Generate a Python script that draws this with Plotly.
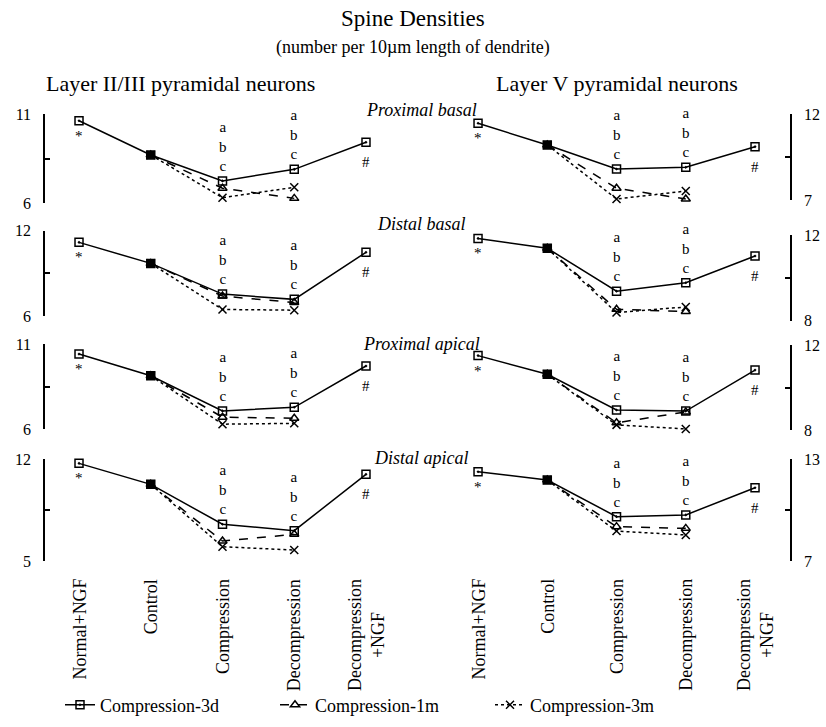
import plotly.graph_objects as go

# ---- data -------------------------------------------------------------
categories = ["Normal+NGF", "Control", "Compression", "Decompression", "Decompression<br>+NGF"]
series_names = ["Compression-3d", "Compression-1m", "Compression-3m"]
regions = ["Proximal basal", "Distal basal", "Proximal apical", "Distal apical"]
layers = ["Layer II/III pyramidal neurons", "Layer V pyramidal neurons"]

# Layer II/III
l23_3d = [
    [10.62, 8.70, 7.24, 7.89, 9.41],
    [11.18, 9.70, 7.54, 7.17, 10.48],
    [10.41, 9.14, 7.08, 7.29, 9.71],
    [11.70, 10.26, 7.52, 7.08, 10.95],
]
l23_1m = [
    [None, 8.70, 6.83, 6.26, None],
    [None, 9.70, 7.40, 6.95, None],
    [None, 9.14, 6.71, 6.65, None],
    [None, 10.26, 6.37, 6.83, None],
]
l23_3m = [
    [None, 8.70, 6.30, 6.88, None],
    [None, 9.70, 6.46, 6.41, None],
    [None, 9.14, 6.30, 6.35, None],
    [None, 10.26, 5.98, 5.75, None],
]

# Layer V
l5_3d = [
    [11.46, 10.20, 8.80, 8.90, 10.10],
    [11.84, 11.38, 9.38, 9.77, 11.02],
    [11.50, 10.62, 8.94, 8.89, 10.82],
    [12.25, 11.76, 9.61, 9.71, 11.31],
]
l5_1m = [
    [None, 10.20, 7.68, 7.06, None],
    [None, 11.38, 8.53, 8.43, None],
    [None, 10.62, 8.34, 8.85, None],
    [None, 11.76, 9.02, 8.92, None],
]
l5_3m = [
    [None, 10.20, 7.06, 7.52, None],
    [None, 11.38, 8.38, 8.64, None],
    [None, 10.62, 8.24, 8.05, None],
    [None, 11.76, 8.76, 8.53, None],
]

# y-axis ranges per panel (low, high)
l23_ranges = [(6, 11), (6, 12), (6, 11), (5, 12)]
l5_ranges = [(7, 12), (8, 12), (8, 12), (7, 13)]

sig_letters = "a<br>b<br>c"
sig_normal = "*"
sig_ngf = "#"

# ---- layout helpers ---------------------------------------------------
W, H = 826, 727
FONT = "Liberation Serif"
INK = "#000000"


def px_x(p):
    return p / W


def px_y(p):
    return 1 - p / H


# pixel extents (top, bottom) of each y axis
l23_extent = [(114, 203), (230.7, 316), (344, 429.3), (459, 561)]
l5_extent = [(114, 200), (235, 320.7), (345, 430), (459, 561)]
label_y = [110, 224, 344, 458]

fig = go.Figure()

styles = {
    "Compression-3d": dict(dash="solid", symbol="square-open-dot", size=8),
    "Compression-1m": dict(dash="dash", symbol="triangle-up-open", size=8),
    "Compression-3m": dict(dash="dot", symbol="x-thin-open", size=8),
}

xs = list(range(len(categories)))
annotations = []

columns = [
    ("x", (l23_3d, l23_1m, l23_3m), l23_ranges, l23_extent, "left"),
    ("x2", (l5_3d, l5_1m, l5_3m), l5_ranges, l5_extent, "right"),
]

layout_axes = {}
for c, (xname, sets, ranges, extents, side) in enumerate(columns):
    for i in range(4):
        k = 2 * i + c + 1
        yname = "y" if k == 1 else f"y{k}"
        lo, hi = ranges[i]
        top, bot = extents[i]
        layout_axes["yaxis" if k == 1 else f"yaxis{k}"] = dict(
            domain=[px_y(bot), px_y(top)],
            range=[lo, hi],
            anchor=xname,
            side=side,
            showline=True, linecolor=INK, linewidth=1.5,
            showgrid=False, zeroline=False,
            tickmode="array",
            tickvals=[lo, (lo + hi) / 2, hi],
            ticktext=[str(lo), "", str(hi)],
            ticks="inside", ticklen=5, tickwidth=1.5, tickcolor=INK,
            minor=dict(tickmode="array", tickvals=[lo, hi], ticks="outside",
                       ticklen=5, tickwidth=1.5, tickcolor=INK),
            ticklabelstandoff=9,
            tickfont=dict(family=FONT, size=16, color=INK),
        )
        for s, name in enumerate(series_names):
            vals = sets[s][i]
            st = styles[name]
            symbols = st["symbol"]
            if s == 0:
                symbols = [st["symbol"]] * len(xs)
                symbols[1] = "square"
            fig.add_trace(go.Scatter(
                x=xs, y=vals, xaxis=xname, yaxis=yname,
                mode="lines+markers", name=name,
                legendgroup=name, showlegend=(c == 0 and i == 0),
                connectgaps=False, cliponaxis=False,
                line=dict(color=INK, width=1.5, dash=st["dash"]),
                marker=dict(symbol=symbols, size=st["size"], color=INK,
                            line=dict(color=INK, width=1.5)),
            ))
        d3 = sets[0][i]
        for j in (2, 3):
            annotations.append(dict(
                x=j, y=d3[j], xref=xname, yref=yname, text=sig_letters,
                showarrow=False, yanchor="bottom", yshift=5,
                font=dict(family=FONT, size=15, color=INK)))
        annotations.append(dict(
            x=0, y=d3[0], xref=xname, yref=yname, text=sig_normal,
            showarrow=False, yanchor="top", yshift=-5,
            font=dict(family=FONT, size=15, color=INK)))
        annotations.append(dict(
            x=4, y=d3[4], xref=xname, yref=yname, text=sig_ngf,
            showarrow=False, yanchor="top", yshift=-10,
            font=dict(family=FONT, size=15, color=INK)))

    # vertical category labels under each column, lines centred
    for j, cat in enumerate(categories):
        annotations.append(dict(
            x=j, xref=xname, y=px_y(577), yref="paper", text=cat,
            textangle=-90, showarrow=False, xanchor="center", yanchor="top",
            align="center", font=dict(family=FONT, size=18, color=INK)))

# region labels between the columns
for i, r in enumerate(regions):
    annotations.append(dict(
        x=px_x(421), y=px_y(label_y[i]), xref="paper", yref="paper",
        text=f"<i>{r}</i>", showarrow=False, xanchor="center", yanchor="middle",
        font=dict(family=FONT, size=18, color=INK)))


# titles
def title_note(text, x, y, size):
    return dict(x=px_x(x), y=px_y(y), xref="paper", yref="paper",
                text=text, showarrow=False, xanchor="center", yanchor="middle",
                font=dict(family=FONT, size=size, color=INK))


annotations += [
    title_note("Spine Densities", 413, 18, 23),
    title_note("(number per 10µm length of dendrite)", 413, 48, 18),
    title_note(layers[0], 180, 84, 22),
    title_note(layers[1], 617, 84, 22),
]

xaxis_common = dict(
    tickmode="array", tickvals=xs, showticklabels=False,
    showline=False, ticks="", showgrid=False, zeroline=False,
    anchor="free", position=px_y(570),
)

fig.update_layout(
    width=W, height=H, autosize=False,
    margin=dict(l=0, r=0, t=0, b=0, autoexpand=False),
    paper_bgcolor="white", plot_bgcolor="rgba(0,0,0,0)",
    xaxis=dict(domain=[px_x(45), px_x(400)], range=[-0.474, 4.474], **xaxis_common),
    xaxis2=dict(domain=[px_x(445), px_x(790)], range=[-0.477, 4.505], **xaxis_common),
    annotations=annotations,
    showlegend=True,
    legend=dict(orientation="h", x=px_x(60), xanchor="left",
                y=px_y(705), yanchor="middle",
                entrywidth=170, entrywidthmode="pixels",
                font=dict(family=FONT, size=18, color=INK),
                bgcolor="rgba(0,0,0,0)"),
    **layout_axes,
)

fig.write_html("out.html")
